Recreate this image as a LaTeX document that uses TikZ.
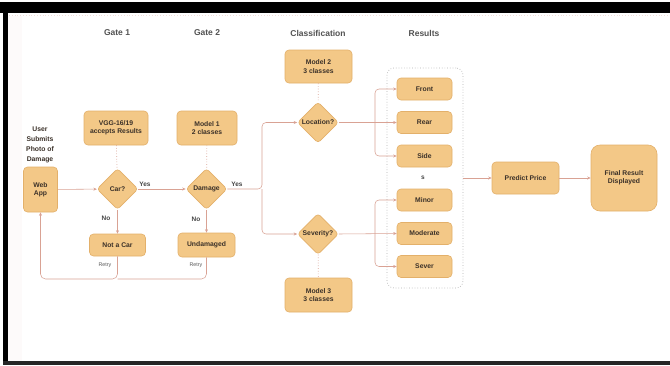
\documentclass[tikz,border=0pt]{standalone}
\usepackage{fontspec}
\setmainfont{Liberation Sans}
\usetikzlibrary{arrows.meta,shapes.geometric}
\definecolor{boxfill}{HTML}{F3C887}
\definecolor{boxline}{HTML}{E3B06A}
\definecolor{edgec}{HTML}{D9A294}
\definecolor{txt}{HTML}{3A3028}
\definecolor{lbl}{HTML}{454545}
\begin{document}
\begin{tikzpicture}[x=1pt,y=-1pt,
  box/.style={draw=boxline, fill=boxfill, rounded corners=4pt, line width=0.6pt,
    font=\bfseries\fontsize{6.8}{8.3}\selectfont, text=txt, align=center, inner sep=0pt},
  dia/.style={draw=boxline, fill=boxfill, diamond, rounded corners=3pt, line width=0.6pt,
    minimum width=41pt, minimum height=41pt, inner sep=0pt},
  dlabel/.style={font=\bfseries\fontsize{6.8}{8.3}\selectfont, text=txt},
  head/.style={font=\bfseries\fontsize{8.5}{10}\selectfont, text=black!68},
  yn/.style={font=\bfseries\fontsize{6.5}{8}\selectfont, text=lbl},
  retry/.style={font=\fontsize{5.3}{6}\selectfont, text=black!65},
  conn/.style={draw=edgec, line width=0.55pt},
  arr/.style={conn, -{Stealth[length=3.5pt,width=3pt]}},
  dots/.style={draw=edgec, line width=0.7pt, dotted},
]
\useasboundingbox (0,0) rectangle (670,365);
\fill[white] (0,0) rectangle (670,365);
% frame
\fill[black] (0,2) rectangle (670,13);
\fill[black] (3,2) rectangle (8,365);
\fill[black!85] (3,361) rectangle (670,365);
\draw[edgec!35, dotted, line width=0.8pt] (9,15.5) -- (670,15.5);
\fill[edgec!5] (8,16) rectangle (22,361);

% headers
\node[head] (h1) at (117,33) {Gate 1};
\node[head] (h2) at (207,33) {Gate 2};
\node[head] (h3) at (318,33) {Classification};
\node[head] (h4) at (424,33) {Results};

% gate 1
\node[dlabel, align=center, font=\bfseries\fontsize{6.8}{9.8}\selectfont] (user) at (40,145) {User\\Submits\\Photo of\\Damage};
\node[box, minimum width=34pt, minimum height=45pt] (web) at (40.5,189.5) {Web\\App};
\node[box, minimum width=64pt, minimum height=34pt] (vgg) at (116,128) {VGG-16/19\\accepts Results};
\node[dia] (car) at (117.5,189) {};
\node[dlabel] at (car.center) {Car?};
\node[box, minimum width=56pt, minimum height=22pt] (notcar) at (117.5,245) {Not a Car};

% gate 2
\node[box, minimum width=60pt, minimum height=34pt] (m1) at (207,128) {Model 1\\2 classes};
\node[dia] (dmg) at (206.5,189) {};
\node[dlabel] at (dmg.center) {Damage};
\node[box, minimum width=57pt, minimum height=24pt] (undam) at (206.5,245) {Undamaged};

% classification
\node[box, minimum width=67pt, minimum height=33pt] (m2) at (318.5,66.5) {Model 2\\3 classes};
\node[dia] (loc) at (318,122.5) {};
\node[dlabel] at (loc.center) {Location?};
\node[dia] (sev) at (318,234) {};
\node[dlabel] at (sev.center) {Severity?};
\node[box, minimum width=67pt, minimum height=34pt] (m3) at (318.5,295) {Model 3\\3 classes};

% results
\node[draw=black!30, dotted, line width=0.7pt, rounded corners=7pt, minimum width=76pt, minimum height=220pt, inner sep=0pt] (res) at (425,178) {};
\node[box, minimum width=55pt, minimum height=22pt] (front) at (424.5,89) {Front};
\node[box, minimum width=55pt, minimum height=22pt] (rear) at (424.5,122.5) {Rear};
\node[box, minimum width=55pt, minimum height=22pt] (side) at (424.5,156) {Side};
\node[yn] (s) at (423,178) {s};
\node[box, minimum width=55pt, minimum height=22pt] (minor) at (424.5,200) {Minor};
\node[box, minimum width=55pt, minimum height=22pt] (moder) at (424.5,233.5) {Moderate};
\node[box, minimum width=55pt, minimum height=22pt] (sever) at (424.5,266.5) {Sever};

\node[box, minimum width=67pt, minimum height=32pt] (pred) at (525.5,178) {Predict Price};
\node[box, rounded corners=9pt, minimum width=66pt, minimum height=66pt] (final) at (624,178) {Final Result\\Displayed};

% connectors gate 1/2
\draw[arr] (web) -- (car);
\draw[arr] (car) -- (dmg);
\draw[arr] (car) -- (notcar);
\draw[arr] (dmg) -- (undam);
\node[yn] at (145,184) {Yes};
\node[yn] at (106,218) {No};
\node[yn] at (237,184) {Yes};
\node[yn] at (196,219) {No};
\draw[dots] (vgg) -- (car);
\draw[dots] (m1) -- (dmg);
\draw[dots] (m2) -- (loc);
\draw[dots] (sev) -- (m3);

% retry loops
\coordinate (rA) at (117.5,279);
\coordinate (rB) at (206.5,279);
\draw[arr, rounded corners=5pt] (notcar.south) -- (rA) -| (web.south);
\draw[conn, rounded corners=5pt] (undam.south) -- (rB) -- (rA);
\node[retry] at (105,265) {Retry};
\node[retry] at (196,265) {Retry};

% split to classification
\coordinate (sp) at (262,189);
\draw[arr, rounded corners=4pt] (dmg.east) -- (sp) |- (loc.west);
\draw[arr, rounded corners=4pt] (sp) |- (sev.west);

% location / severity to results
\coordinate (bl) at (375,122.5);
\coordinate (bs) at (375,233.5);
\draw[arr] (loc.east) -- (rear.west);
\draw[arr, rounded corners=4pt] (bl) |- (front.west);
\draw[arr, rounded corners=4pt] (bl) |- (side.west);
\draw[arr] (sev.east) -- (moder.west);
\draw[arr, rounded corners=4pt] (bs) |- (minor.west);
\draw[arr, rounded corners=4pt] (bs) |- (sever.west);

\draw[arr] (res.east) -- (pred.west);
\draw[arr] (pred) -- (final);
\end{tikzpicture}
\end{document}
